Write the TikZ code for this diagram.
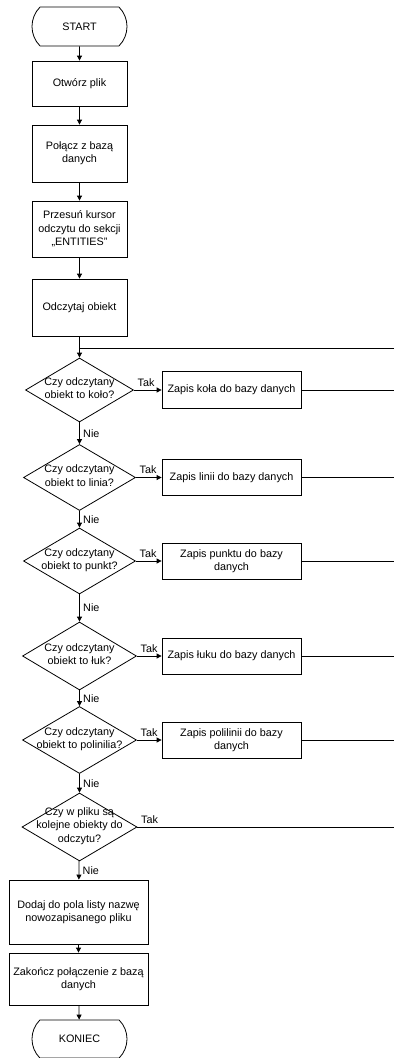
\documentclass[tikz,border=0pt]{standalone}
\usepackage{fontspec}
\setmainfont{Liberation Sans}
\usetikzlibrary{shapes.geometric,shapes.misc,arrows.meta}

% text of a decision, kept out of the diamond size
\newcommand{\qtext}[1]{\smash{\raisebox{-2pt}{\makebox[0pt]{\begin{tabular}{@{}c@{}}#1\end{tabular}}}}}

\begin{document}
\begin{tikzpicture}[x=1pt,y=-1pt,line width=0.8pt]

% Flowchart style
\tikzset{
    every node/.style={font=\fontsize{10.8}{13.3}\selectfont},
    term/.style={draw, rounded rectangle, rounded rectangle arc length=90,
        minimum width=95pt, minimum height=39pt, inner sep=0pt},
    proc/.style={draw, rectangle, align=center, minimum width=95pt, inner sep=0pt},
    wide/.style={draw, rectangle, align=center, minimum width=139pt, inner sep=0pt},
    dec/.style={draw, diamond, minimum width=112pt, minimum height=66pt, inner sep=0pt},
    flow/.style={-{Triangle[length=5pt,width=5pt]}}
}
\useasboundingbox (0,0) rectangle (394,1058);

\node[term] (START) at (79.5,26.5) {START};
\node[proc,minimum height=45pt] (OPEN) at (79.5,83.5) {Otwórz plik};
\node[proc,minimum height=57pt] (CONNECT) at (79.5,153.5) {Połącz z bazą\\danych};
\node[proc,minimum height=56pt] (SEEK) at (79.5,229) {Przesuń kursor\\odczytu do sekcji\\„ENTITIES”};
\node[proc,minimum height=57pt] (READ) at (79.5,307.5) {Odczytaj obiekt};
\coordinate (JOIN) at (79.5,348);
\coordinate (RTOP) at (394,348);

\node[dec,minimum width=108pt,minimum height=64pt] (Q1) at (79.5,390) {\qtext{Czy odczytany\\obiekt to koło?}};
\node[dec] (Q2) at (79.5,477.5) {\qtext{Czy odczytany\\obiekt to linia?}};
\node[dec] (Q3) at (79.5,561) {\qtext{Czy odczytany\\obiekt to punkt?}};
\node[dec,minimum width=114pt,minimum height=68pt] (Q4) at (79.5,656) {\qtext{Czy odczytany\\obiekt to łuk?}};
\node[dec,minimum width=114pt,minimum height=67pt] (Q5) at (79.5,740) {\qtext{Czy odczytany\\obiekt to polinilia?}};
\node[dec,minimum width=115pt,minimum height=68pt] (Q6) at (79.5,827) {\qtext{Czy w pliku są\\kolejne obiekty do\\odczytu?}};

\node[wide,minimum height=37pt] (SAVE1) at (231.5,390) {Zapis koła do bazy danych};
\node[wide,minimum height=36pt] (SAVE2) at (231.5,477.5) {Zapis linii do bazy danych};
\node[wide,minimum height=36pt] (SAVE3) at (231.5,561) {Zapis punktu do bazy\\danych};
\node[wide,minimum height=36pt] (SAVE4) at (231.5,656) {Zapis łuku do bazy danych};
\node[wide,minimum height=36pt] (SAVE5) at (231.5,740) {Zapis polilinii do bazy\\danych};
\coordinate (R1) at (394,390);
\coordinate (R2) at (394,477.5);
\coordinate (R3) at (394,561);
\coordinate (R4) at (394,656);
\coordinate (R5) at (394,740);
\coordinate (R6) at (394,827);

\node[wide,minimum height=64pt] (ADD) at (78.5,912) {Dodaj do pola listy nazwę\\nowozapisanego pliku};
\node[wide,minimum height=52pt] (CLOSE) at (78.5,979) {Zakończ połączenie z bazą\\danych};
\node[term,minimum height=38pt] (STOP) at (79.5,1039) {KONIEC};

% Main column
\draw[flow] (START) -- (OPEN);
\draw[flow] (OPEN) -- (CONNECT);
\draw[flow] (CONNECT) -- (SEEK);
\draw[flow] (SEEK) -- (READ);
\draw[flow] (READ) -- (Q1);
\draw (RTOP) -- (JOIN);

% Decisions
\draw[flow] (Q1) -- (SAVE1) node[pos=0,above right] {Tak};
\draw[flow] (Q2) -- (SAVE2) node[pos=0,above right] {Tak};
\draw[flow] (Q3) -- (SAVE3) node[pos=0,above right] {Tak};
\draw[flow] (Q4) -- (SAVE4) node[pos=0,above right] {Tak};
\draw[flow] (Q5) -- (SAVE5) node[pos=0,above right] {Tak};
\draw (Q6) -- (R6) node[pos=0,above right] {Tak};
\draw[flow] (Q1) -- (Q2) node[midway,right] {Nie};
\draw[flow] (Q2) -- (Q3) node[midway,right] {Nie};
\draw[flow] (Q3) -- (Q4) node[midway,right] {Nie};
\draw[flow] (Q4) -- (Q5) node[midway,right] {Nie};
\draw[flow] (Q5) -- (Q6) node[midway,right] {Nie};
\draw[flow] (Q6) -- (ADD) node[midway,right] {Nie};

% Back to the loop
\draw (SAVE1) -- (R1);
\draw (SAVE2) -- (R2);
\draw (SAVE3) -- (R3);
\draw (SAVE4) -- (R4);
\draw (SAVE5) -- (R5);

% End
\draw[flow] (ADD) -- (CLOSE);
\draw[flow] (CLOSE) -- (STOP);
\end{tikzpicture}
\end{document}
